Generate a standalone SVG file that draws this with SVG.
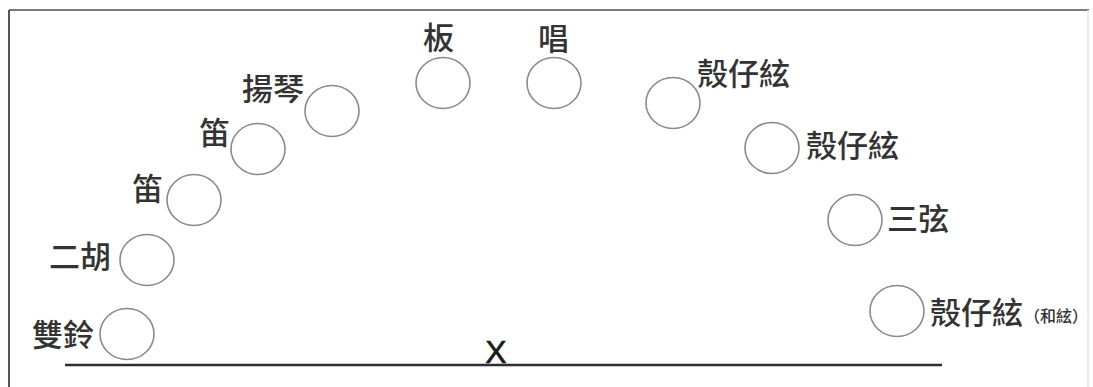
<svg xmlns="http://www.w3.org/2000/svg" width="1093" height="387" viewBox="0 0 1093 387">
<style>
.seat{fill:none;stroke:#8a8a8a;stroke-width:1.6}
.lbl{font-family:"Noto Sans CJK TC","Noto Sans CJK SC",sans-serif;font-size:31px;font-weight:500;fill:#333333}
.sm{font-family:"Noto Sans CJK TC","Noto Sans CJK SC",sans-serif;font-size:16px;font-weight:500;fill:#333333}
</style>
<rect width="1093" height="387" fill="#ffffff"/>
<g id="frame">
<line x1="9" y1="10" x2="1089" y2="10" stroke="#7a7a7a" stroke-width="2"/>
<line x1="9" y1="10" x2="9" y2="387" stroke="#555" stroke-width="2"/>
<line x1="1088" y1="10" x2="1088" y2="387" stroke="#e6e6e6" stroke-width="1.5"/>
</g>
<g id="connectors">
<line x1="65" y1="365" x2="942" y2="365" stroke="#2e2e2e" stroke-width="2.4"/>
</g>
<g id="x-mark"><text x="496" y="363" text-anchor="middle" font-family="Liberation Sans, sans-serif" font-size="32" fill="#1a1a1a" stroke="#1a1a1a" stroke-width="0.6">X</text></g>
<g id="n-shuangling"><ellipse class="seat" cx="127" cy="334" rx="27" ry="25.5"/><text class="lbl" x="32" y="346">雙鈴</text></g>
<g id="n-erhu"><ellipse class="seat" cx="147" cy="260" rx="27" ry="25.5"/><text class="lbl" x="49" y="268">二胡</text></g>
<g id="n-di1"><ellipse class="seat" cx="194" cy="200" rx="27" ry="25.5"/><text class="lbl" x="132" y="200">笛</text></g>
<g id="n-di2"><ellipse class="seat" cx="258" cy="149" rx="27" ry="25.5"/><text class="lbl" x="199" y="144">笛</text></g>
<g id="n-yangqin"><ellipse class="seat" cx="332" cy="111" rx="27" ry="25.5"/><text class="lbl" x="242" y="100">揚琴</text></g>
<g id="n-ban"><ellipse class="seat" cx="443" cy="83" rx="27" ry="25.5"/><text class="lbl" x="423" y="49">板</text></g>
<g id="n-chang"><ellipse class="seat" cx="554" cy="83" rx="27" ry="25.5"/><text class="lbl" x="538" y="50">唱</text></g>
<g id="n-kexian1"><ellipse class="seat" cx="673" cy="103" rx="27" ry="25.5"/><text class="lbl" x="697" y="85">殼仔絃</text></g>
<g id="n-kexian2"><ellipse class="seat" cx="772" cy="148" rx="27" ry="25.5"/><text class="lbl" x="806" y="157">殼仔絃</text></g>
<g id="n-sanxian"><ellipse class="seat" cx="855" cy="220" rx="27" ry="25.5"/><text class="lbl" x="887" y="230">三弦</text></g>
<g id="n-kexian3"><ellipse class="seat" cx="897" cy="311" rx="27" ry="25.5"/><text class="lbl" x="930" y="324">殼仔絃</text><text class="sm" x="1024" y="322">（和絃）</text></g>
</svg>
